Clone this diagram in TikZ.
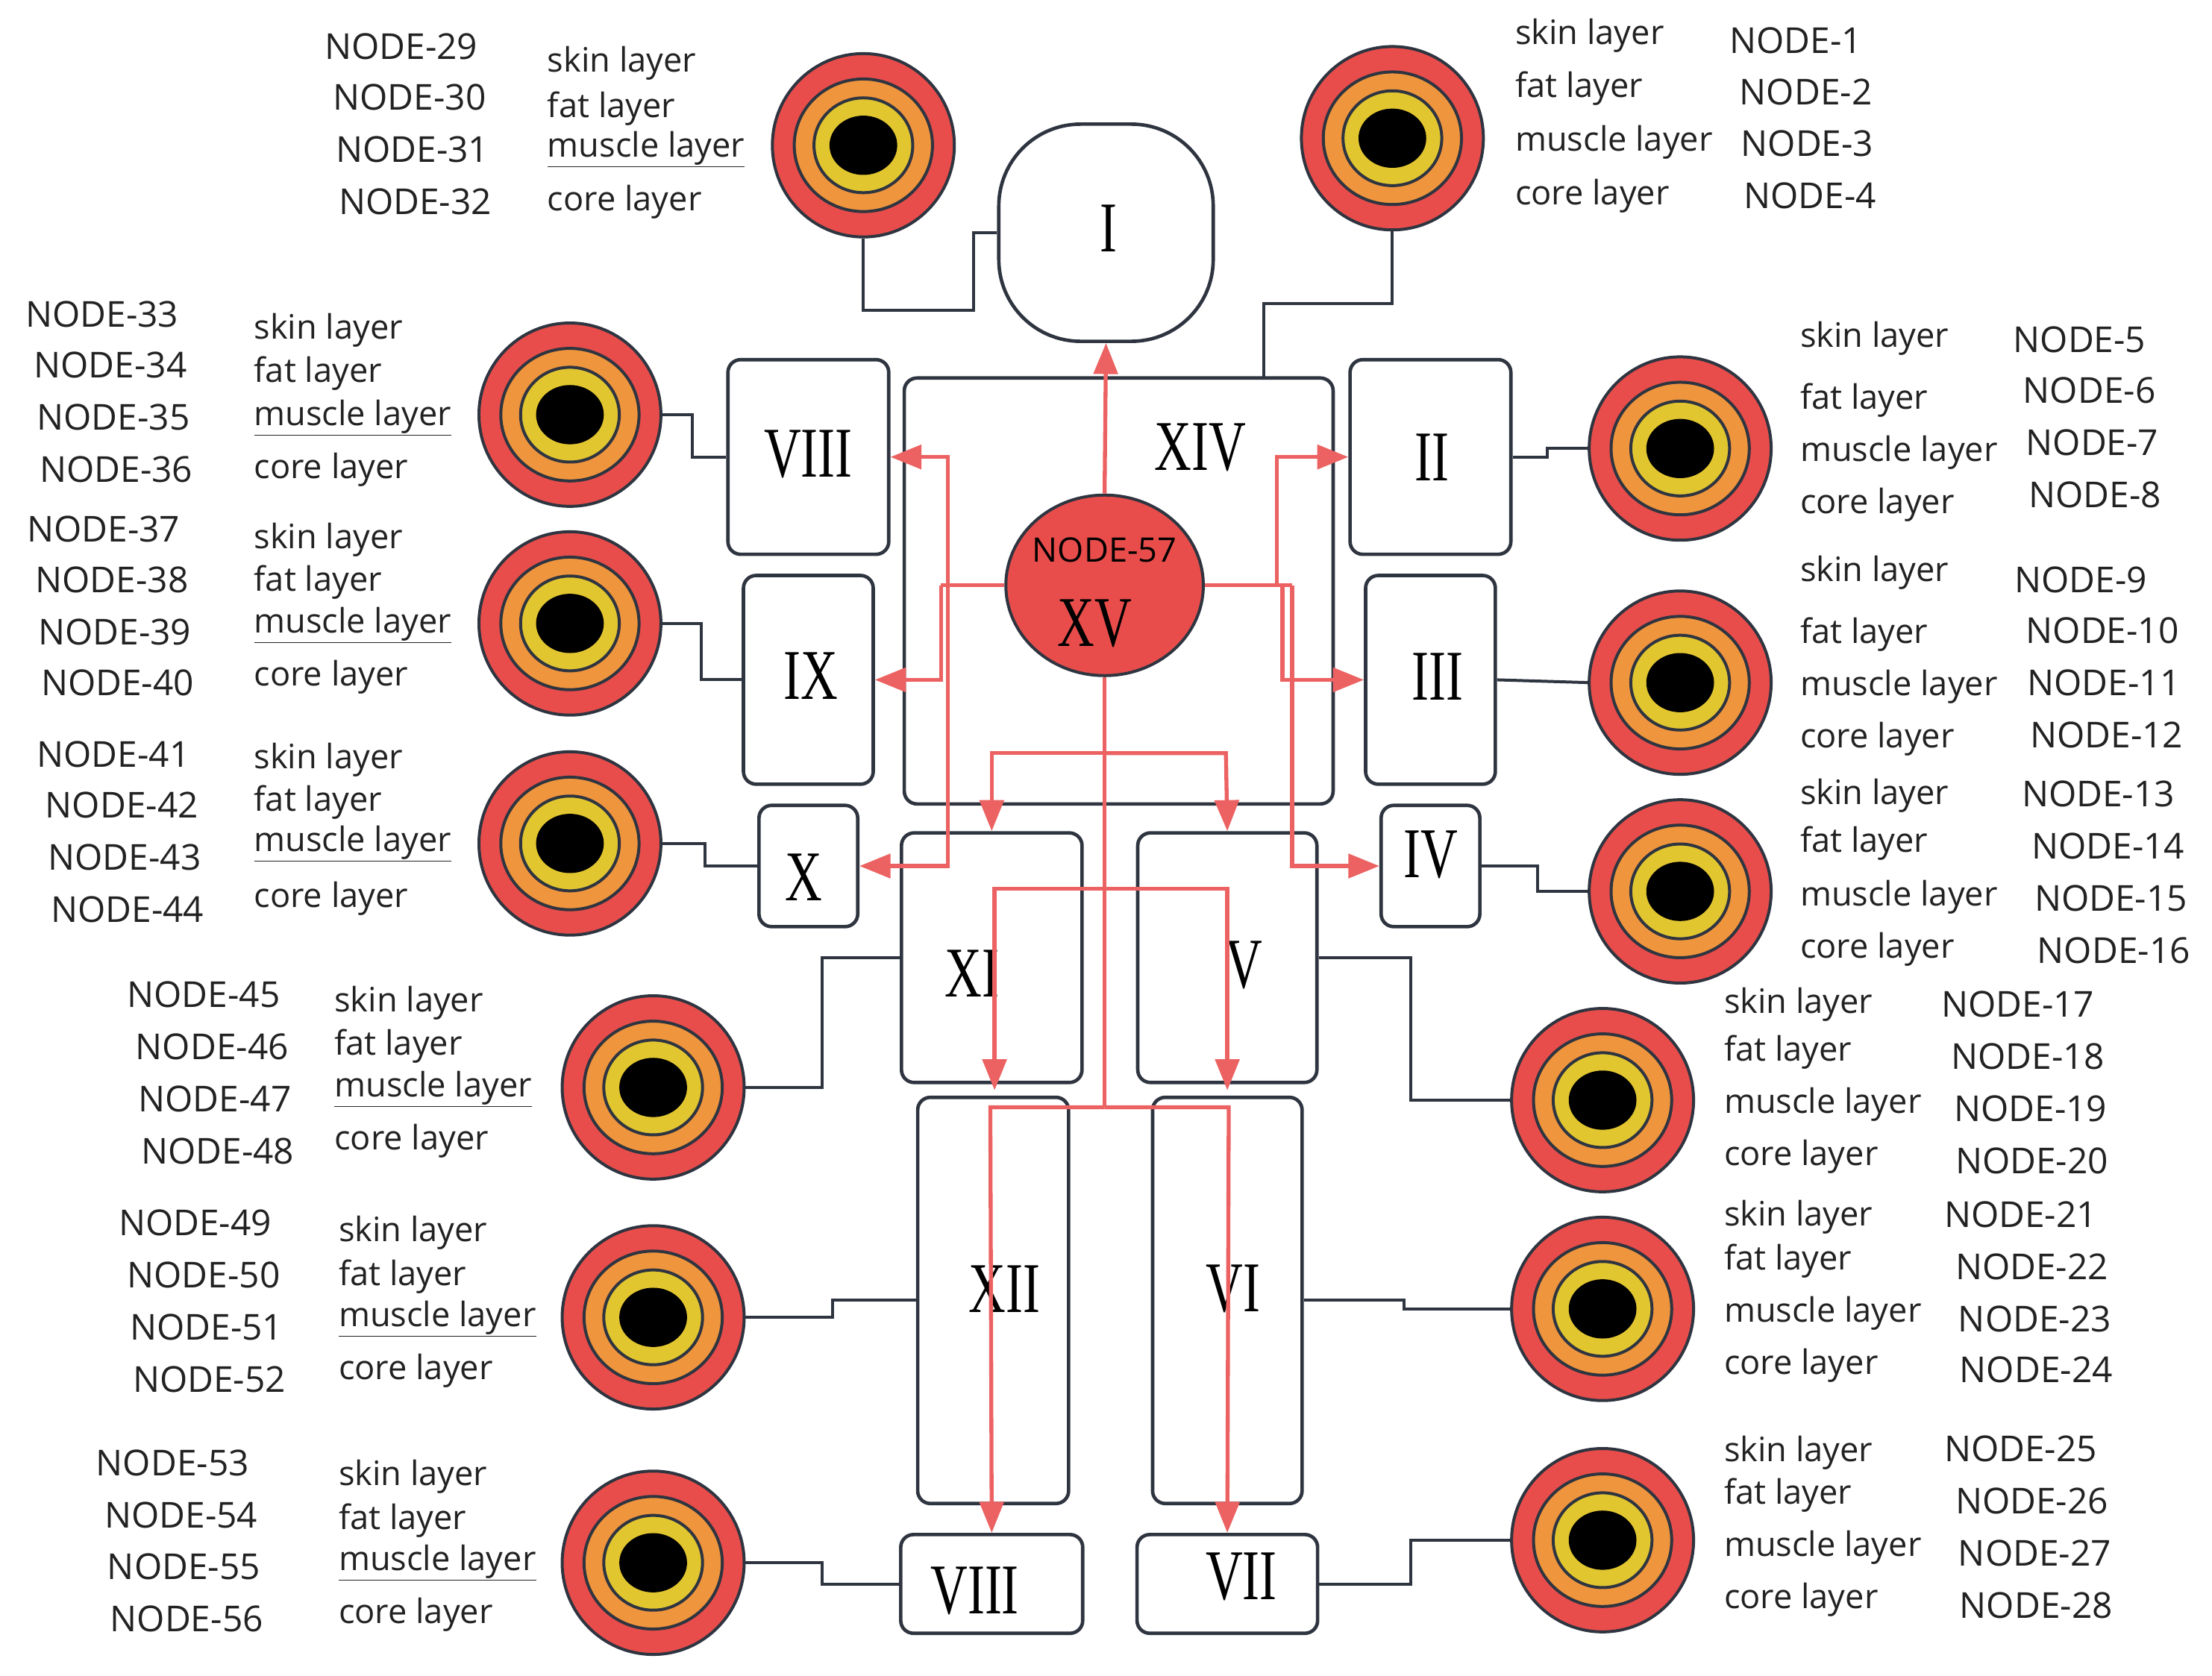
\documentclass[tikz,border=0pt]{standalone}
\usepackage{fontspec}
\setmainfont{Open Sans}
\newfontfamily\rmn[FakeStretch=0.72]{Liberation Serif}
\usetikzlibrary{arrows.meta,shapes.geometric}
\definecolor{tred}{HTML}{E84D4B}
\definecolor{tora}{HTML}{EF953D}
\definecolor{tyel}{HTML}{E2C630}
\definecolor{dk}{HTML}{2F3540}
\definecolor{ared}{HTML}{EC6262}
\definecolor{txt}{HTML}{222222}
\tikzset{
  box/.style={draw=dk,line width=3.5pt,rounded corners=0.45cm,fill=white,inner sep=0},
  rom/.style={font=\rmn\fontsize{72}{72}\selectfont},
  wire/.style={draw=dk,line width=3pt},
  flow/.style={draw=ared,line width=4pt,-{Triangle[length=1.1cm,width=0.85cm]}},
  flown/.style={draw=ared,line width=4pt},
  lay/.style={font=\fontsize{34}{34}\selectfont,text=txt,anchor=west,inner sep=0},
  nd/.style={font=\fontsize{36}{36}\selectfont,text=txt,anchor=west,inner sep=0},
}
\newcommand\target[3]{%
  \node[draw=dk,line width=3pt,fill=tred,ellipse,minimum width=6.45cm,minimum height=6.5cm,inner sep=0] (#1) at (#2,#3) {};
  \draw[dk,line width=3pt,fill=tora] (#2,#3) ellipse [x radius=2.45cm,y radius=2.35cm];
  \draw[dk,line width=3pt,fill=tyel] (#2,#3) ellipse [x radius=1.75cm,y radius=1.68cm];
  \fill[black] (#2,#3) ellipse [x radius=1.2cm,y radius=1.05cm];
}
\newcommand\lgrp[5]{%
  \node[lay] (sk#1#2) at (#1,#2) {skin layer};
  \node[lay] (ft#1#3) at (#1,#3) {fat layer};
  \node[lay] (ms#1#4) at (#1,#4) {muscle layer};
  \node[lay] (cr#1#5) at (#1,#5) {core layer};
}
\newcommand\ulgrp[5]{%
  \node[lay] (sk#1#2) at (#1,#2) {skin layer};
  \node[lay] (ft#1#3) at (#1,#3) {fat layer};
  \node[lay] (ms#1#4) at (#1,#4) {\underline{muscle layer}};
  \node[lay] (cr#1#5) at (#1,#5) {core layer};
}
\newcommand\ngrp[6]{%
  \pgfmathtruncatemacro\na{#2}\pgfmathtruncatemacro\nb{#2+1}%
  \pgfmathtruncatemacro\nc{#2+2}\pgfmathtruncatemacro\ndd{#2+3}%
  \node[nd] (n\na) at (#1,#3) {NODE-\na};
  \node[nd] (n\nb) at (#1+6,#4) {NODE-\nb};
  \node[nd] (n\nc) at (#1+8,#5) {NODE-\nc};
  \node[nd] (n\ndd) at (#1+10,#6) {NODE-\ndd};
}
\begin{document}
\begin{tikzpicture}[x=0.05cm,y=-0.05cm]
\useasboundingbox[fill=white] (0,0) rectangle (1568,1188);
% boxes
\node[box,rounded corners=2.9cm,minimum width=7.6cm,minimum height=7.7cm] (b1) at (784,165) {};
\node[rom] at (786,162) {I};
\node[box,minimum width=15.2cm,minimum height=15.1cm] (b14) at (793,419) {};
\node[rom] (t14) at (851,317) {XIV};
\node[box,minimum width=5.7cm,minimum height=6.9cm] (b8) at (573,324) {};
\node[rom] at (573,322) {VIII};
\node[box,minimum width=4.6cm,minimum height=7.4cm] (b9) at (573,482) {};
\node[rom] at (575,479) {IX};
\node[box,minimum width=3.5cm,minimum height=4.3cm] (b10) at (573,614) {};
\node[rom] at (570,622) {X};
\node[box,minimum width=5.7cm,minimum height=6.9cm] (b2) at (1014,324) {};
\node[rom] at (1015,324) {II};
\node[box,minimum width=4.6cm,minimum height=7.4cm] (b3) at (1014,482) {};
\node[rom] at (1019,480) {III};
\node[box,minimum width=3.5cm,minimum height=4.3cm] (b4) at (1014,614) {};
\node[rom] at (1014,606) {IV};
\node[box,minimum width=6.4cm,minimum height=8.85cm] (b11) at (703,679) {};
\node[rom] at (689,690) {XI};
\node[box,minimum width=6.35cm,minimum height=8.85cm] (b5) at (870,679) {};
\node[rom] at (882,684) {V};
\node[box,minimum width=5.35cm,minimum height=14.4cm] (b12) at (704,922) {};
\node[rom] at (712,914) {XII};
\node[box,minimum width=5.3cm,minimum height=14.4cm] (b6) at (870,922) {};
\node[rom] at (874,914) {VI};
\node[box,minimum width=6.45cm,minimum height=3.5cm] (b8b) at (703,1123) {};
\node[rom] at (691,1128) {VIII};
\node[box,minimum width=6.4cm,minimum height=3.5cm] (b7) at (870,1123) {};
\node[rom] at (880,1118) {VII};
% targets
\target{tA}{612}{103}
\target{tB}{987}{98}
\target{tC}{404}{294}
\target{tD}{404}{442}
\target{tE}{404}{598}
\target{tF}{463}{771}
\target{tG}{463}{934}
\target{tH}{463}{1108}
\target{tI}{1191}{318}
\target{tJ}{1191}{484}
\target{tK}{1191}{632}
\target{tL}{1136}{780}
\target{tM}{1136}{928}
\target{tN}{1136}{1092}
% dark wires
\draw[wire] (tA.south) -- (612,220) -- (690,220) -- (690,165) -- (b1.west);
\draw[wire] (tB.south) -- (987,215) -- (896,215) -- (896,268);
\draw[wire] (tC.east) -- (491,294) -- (491,324) -- (b8.west);
\draw[wire] (tD.east) -- (497,442) -- (497,482) -- (b9.west);
\draw[wire] (tE.east) -- (500,598) -- (500,614) -- (b10.west);
\draw[wire] (tF.east) -- (583,771) -- (583,679) -- (b11.west);
\draw[wire] (tG.east) -- (590,934) -- (590,922) -- (b12.west);
\draw[wire] (tH.east) -- (583,1108) -- (583,1123) -- (b8b.west);
\draw[wire] (b2.east) -- (1097,324) -- (1097,318) -- (tI.west);
\draw[wire] (b3.east) -- (1127,484);
\draw[wire] (b4.east) -- (1090,614) -- (1090,632) -- (tK.west);
\draw[wire] (b5.east) -- (1000,679) -- (1000,780) -- (tL.west);
\draw[wire] (b6.east) -- (995,922) -- (995,928) -- (tM.west);
\draw[wire] (b7.east) -- (1000,1123) -- (1000,1092) -- (tN.west);
% centre node
\node[draw=dk,line width=3pt,fill=tred,ellipse,minimum width=7cm,minimum height=6.4cm,inner sep=0] (c) at (783,415) {};
% red flows
\draw[flow] (c.north) -- (b1.south);
\draw[flown] (c.west) -- (667,415);
\draw[flow] (667,415) -- (667,482) -- (b9.east);
\draw[flow] (672,415) -- (672,324) -- (b8.east);
\draw[flow] (672,415) -- (672,614) -- (b10.east);
\draw[flown] (c.east) -- (916,415);
\draw[flow] (905,415) -- (905,324) -- (b2.west);
\draw[flow] (909,415) -- (909,482) -- (b3.west);
\draw[flow] (916,415) -- (916,614) -- (b4.west);
\draw[flown] (c.south) -- (783,785);
\draw[flow] (783,534) -- (703,534) -- (b11.north);
\draw[flow] (783,534) -- (869,534) -- (b5.north);
\draw[flow] (783,630) -- (705,630) -- (705,773);
\draw[flow] (783,630) -- (870,630) -- (870,773);
\draw[flow] (783,785) -- (702,785) -- (b8b.north);
\draw[flow] (783,785) -- (871,785) -- (b7.north);
\node[font=\fontsize{34}{34}\selectfont] (c57) at (783,390) {NODE-57};
\node[rom] (c15) at (776,442) {XV};
% labels
\ulgrp{388}{45}{77}{106}{143}
\ngrp{230}{29}{33}{69}{106}{143}
\lgrp{1074}{25}{63}{101}{139}
\node[nd] at (1226,29) {NODE-1};\node[nd] at (1233,65) {NODE-2};
\node[nd] at (1234,102) {NODE-3};\node[nd] at (1236,139) {NODE-4};
\ulgrp{180}{234}{265}{296}{333}
\ngrp{18}{33}{223}{259}{296}{333}
\ulgrp{180}{383}{413}{443}{480}
\ngrp{19}{37}{375}{411}{448}{484}
\ulgrp{180}{539}{569}{598}{637}
\ngrp{26}{41}{535}{571}{608}{645}
\ulgrp{237}{711}{742}{772}{809}
\ngrp{90}{45}{705}{742}{779}{816}
\ulgrp{240}{874}{905}{935}{972}
\ngrp{84}{49}{867}{904}{941}{978}
\ulgrp{240}{1047}{1078}{1108}{1145}
\ngrp{68}{53}{1037}{1074}{1111}{1148}
\lgrp{1276}{240}{284}{321}{358}
\node[nd] at (1427,241) {NODE-5};\node[nd] at (1434,277) {NODE-6};
\node[nd] at (1436,314) {NODE-7};\node[nd] at (1438,351) {NODE-8};
\lgrp{1276}{406}{450}{487}{524}
\node[nd] at (1428,411) {NODE-9};\node[nd] at (1436,447) {NODE-10};
\node[nd] at (1437,484) {NODE-11};\node[nd] at (1439,521) {NODE-12};
\lgrp{1276}{564}{598}{636}{673}
\node[nd] at (1433,563) {NODE-13};\node[nd] at (1440,600) {NODE-14};
\node[nd] at (1442,637) {NODE-15};\node[nd] at (1444,674) {NODE-16};
\lgrp{1222}{712}{746}{783}{820}
\node[nd] at (1376,712) {NODE-17};\node[nd] at (1383,749) {NODE-18};
\node[nd] at (1385,786) {NODE-19};\node[nd] at (1386,823) {NODE-20};
\lgrp{1222}{863}{894}{931}{968}
\node[nd] at (1378,861) {NODE-21};\node[nd] at (1386,898) {NODE-22};
\node[nd] at (1388,935) {NODE-23};\node[nd] at (1389,971) {NODE-24};
\lgrp{1222}{1030}{1060}{1097}{1134}
\node[nd] at (1378,1027) {NODE-25};\node[nd] at (1386,1064) {NODE-26};
\node[nd] at (1388,1101) {NODE-27};\node[nd] at (1389,1138) {NODE-28};
\end{tikzpicture}
\end{document}
